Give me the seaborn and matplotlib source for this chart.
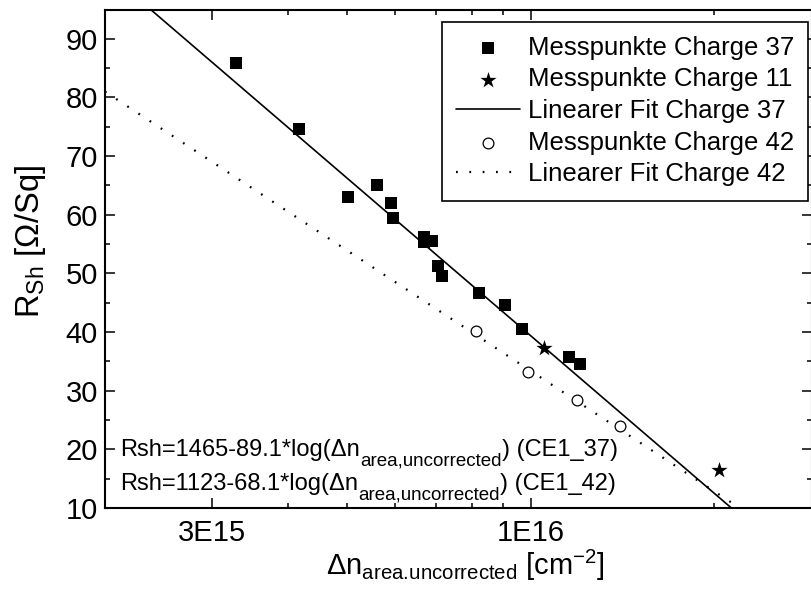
import numpy as np
import matplotlib
matplotlib.use("Agg")
import matplotlib.pyplot as plt
import seaborn as sns
from matplotlib.ticker import FixedLocator, FixedFormatter, NullFormatter, MultipleLocator

# ---- data ----
n37 = [3.28e15, 4.17e15, 5.02e15, 5.59e15, 5.90e15, 5.94e15, 6.69e15, 6.69e15,
       6.90e15, 7.06e15, 7.16e15, 8.24e15, 9.09e15, 9.70e15, 1.158e16, 1.204e16]
r37 = [85.9, 74.7, 63.1, 65.0, 62.0, 59.5, 56.2, 55.4,
       55.5, 51.2, 49.6, 46.7, 44.6, 40.6, 35.7, 34.6]
n11 = [1.053e16, 2.04e16]
r11 = [37.3, 16.4]
n42 = [8.14e15, 9.91e15, 1.192e16, 1.404e16]
r42 = [40.2, 33.2, 28.5, 23.9]

fit37 = (1465.0, 89.1)   # Rsh = a - b*log10(n)
fit42 = (1123.0, 68.1)

legend_labels = ["Messpunkte Charge 37", "Messpunkte Charge 11", "Linearer Fit Charge 37",
                 "Messpunkte Charge 42", "Linearer Fit Charge 42"]
x_major = [3e15, 1e16]
x_major_labels = ["3E15", "1E16"]
x_minor = [2e15, 4e15, 5e15, 6e15, 7e15, 8e15, 9e15, 2e16]
y_major = [10, 20, 30, 40, 50, 60, 70, 80, 90]
xlim = (2e15, 2.9e16)
ylim = (10, 95)

ann_lines = [
    ("Rsh=1465-89.1*log(Δn", "area,uncorrected", ") (CE1_37)"),
    ("Rsh=1123-68.1*log(Δn", "area,uncorrected", ") (CE1_42)"),
]

# ---- style ----
sns.set_style("ticks")
plt.rcParams['font.family'] = ['Liberation Sans', 'DejaVu Sans']
plt.rcParams['mathtext.fontset'] = 'custom'
plt.rcParams['mathtext.rm'] = 'Liberation Sans'
plt.rcParams['mathtext.it'] = 'Liberation Sans:italic'
plt.rcParams['mathtext.bf'] = 'Liberation Sans:bold'
for k in ['text.color', 'axes.labelcolor', 'xtick.color', 'ytick.color', 'axes.edgecolor']:
    plt.rcParams[k] = 'black'

W, H = 811, 591
fig = plt.figure(figsize=(W / 100, H / 100), dpi=100)
fig.patch.set_facecolor('white')
ax = fig.add_axes([105 / W, (H - 508) / H, 707 / W, 498.5 / H])
ax.set_xscale('log')

sns.scatterplot(x=n37, y=r37, marker='s', s=66, color='black', edgecolor='black',
                linewidth=0, label=legend_labels[0], ax=ax, zorder=3)
sns.scatterplot(x=n11, y=r11, marker='*', s=150, color='black', edgecolor='black',
                linewidth=0, label=legend_labels[1], ax=ax, zorder=3)
fx = np.array(xlim)
sns.lineplot(x=fx, y=fit37[0] - fit37[1] * np.log10(fx), color='black', linewidth=1.2,
             label=legend_labels[2], ax=ax, zorder=2)
sns.scatterplot(x=n42, y=r42, marker='o', s=60, color='white', edgecolor='black',
                linewidth=0.9, label=legend_labels[3], ax=ax, zorder=3)
sns.lineplot(x=fx, y=fit42[0] - fit42[1] * np.log10(fx), color='black', linewidth=1.6,
             linestyle=(0, (0.8, 5.2)), label=legend_labels[4], ax=ax, zorder=2)

ax.set_xlim(*xlim)
ax.set_ylim(*ylim)

ax.xaxis.set_major_locator(FixedLocator(x_major))
ax.xaxis.set_major_formatter(FixedFormatter(x_major_labels))
ax.xaxis.set_minor_locator(FixedLocator(x_minor))
ax.xaxis.set_minor_formatter(NullFormatter())
ax.yaxis.set_major_locator(FixedLocator(y_major))
ax.yaxis.set_minor_locator(MultipleLocator(5))

ax.tick_params(which='both', direction='in', top=True, right=True, width=1.1,
               colors='black')
ax.tick_params(which='major', length=7.5, labelsize=21)
ax.tick_params(axis='x', which='major', pad=8)
ax.tick_params(axis='y', which='major', pad=5)
ax.tick_params(which='minor', length=3.8)
for sp in ax.spines.values():
    sp.set_linewidth(1.5)
    sp.set_color('black')

ax.set_xlabel(r"Δn$_{\mathrm{area.\!uncorrected}}$ [cm$^{\mathrm{-2}}$]", fontsize=21)
ax.set_ylabel(r"R$_{\mathrm{Sh}}$ [Ω/Sq]", fontsize=23.5)
ax.xaxis.set_label_coords(0.51, -0.080)
ax.yaxis.set_label_coords(-0.080, 0.535)

# equations: main text, larger-than-mathtext subscript, tail
renderer = fig.canvas.get_renderer()
for (head, sub, tail), base in zip(ann_lines, [456, 490]):
    x = 120.0
    for txt, size, dy in [(head, 17, 0), (sub, 13.5, 9), (tail, 17, 0)]:
        t = fig.text(x / W, 1 - (base + dy) / H, txt, fontsize=size,
                     va='baseline', ha='left')
        x = t.get_window_extent(renderer).x1 + 0.5

handles, labels = ax.get_legend_handles_labels()
hmap = dict(zip(labels, handles))
leg = ax.legend([hmap[l] for l in legend_labels], legend_labels,
                loc='upper right', bbox_to_anchor=(808 / W, 1 - 21.5 / H),
                bbox_transform=fig.transFigure, fontsize=18.5, frameon=True,
                fancybox=False, shadow=False, framealpha=1, edgecolor='black',
                handlelength=2.5, handletextpad=0.3, labelspacing=0.3,
                borderpad=0.55, borderaxespad=0)
leg.get_frame().set_linewidth(1.2)
for txt in leg.get_texts():
    txt.set_color('black')

fig.savefig("out.png", dpi=100, facecolor='white')
